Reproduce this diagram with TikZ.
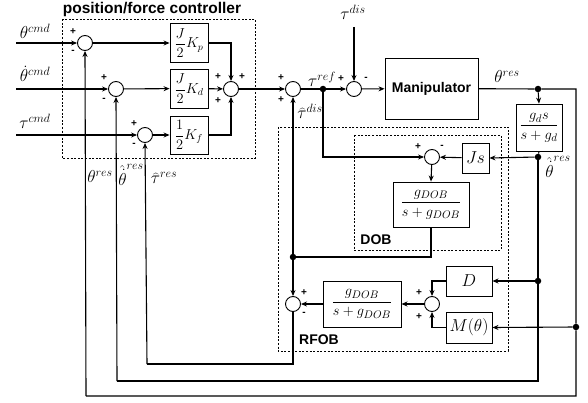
\documentclass[tikz,border=0pt]{standalone}
\usepackage{fontspec}
\newfontfamily\hv{Liberation Sans}
\usetikzlibrary{arrows.meta}
\begin{document}
\begin{tikzpicture}[x=1pt,y=-1pt,
  sig/.style={line width=1.1pt},
  arr/.style={sig,-{Stealth[length=6pt,width=5pt]}},
  sumc/.style={circle,draw,line width=0.9pt,minimum size=15pt,inner sep=0pt,fill=white},
  blk/.style={draw,line width=0.9pt,inner sep=0pt,fill=white,font=\fontsize{16}{18}\selectfont},
  kblk/.style={blk,minimum width=38pt,font=\fontsize{14}{16}\selectfont},
  jdot/.style={circle,fill,inner sep=0pt,minimum size=6.5pt},
  sgn/.style={inner sep=0pt,font=\hv\fontsize{10}{11}\selectfont\bfseries},
  lbl/.style={inner sep=0pt,font=\fontsize{17}{19}\selectfont},
  ttl/.style={inner sep=0pt,font=\hv\bfseries\fontsize{14}{16}\selectfont},
  dbox/.style={draw,line width=0.6pt,dash pattern=on 2pt off 1.6pt}
]
\useasboundingbox (0,0) rectangle (588,403);
% dashed frames
\draw[dbox] (62,19) rectangle (255,158);
\draw[dbox] (278,127) rectangle (508,351);
\draw[dbox] (354,135) rectangle (501,250);
\node[ttl,font=\hv\bfseries\fontsize{15.5}{17}\selectfont] (title) at (152,9) {position/force controller};
\node[ttl] (doblbl) at (376,240) {DOB};
\node[ttl] (rfoblbl) at (319,340) {RFOB};
% sums
\node[sumc] (s1) at (85,43) {};
\node[sumc] (s2) at (116,89) {};
\node[sumc] (s3) at (145,135) {};
\node[sumc] (s4) at (231,89) {};
\node[sumc] (s5) at (293,89) {};
\node[sumc] (s6) at (354,89) {};
\node[sumc] (s7) at (432,157) {};
\node[sumc] (s8) at (293,304) {};
\node[sumc] (s9) at (432,304) {};
% blocks
\node[kblk,minimum height=39pt] (Kp) at (189,43) {$\displaystyle\frac{J}{2}K_p$};
\node[kblk,minimum height=39pt] (Kd) at (189,88.5) {$\displaystyle\frac{J}{2}K_d$};
\node[kblk,minimum height=38pt] (Kf) at (189,135) {$\displaystyle\frac{1}{2}K_f$};
\node[blk,minimum width=93pt,minimum height=61pt,font=\hv\bfseries\fontsize{14}{16}\selectfont] (Man) at (431.5,88.5) {Manipulator};
\node[blk,minimum width=46pt,minimum height=47pt,font=\fontsize{15}{17}\selectfont] (gd) at (539,127.5) {$\displaystyle\frac{g_d s}{s+g_d}$};
\node[blk,minimum width=27pt,minimum height=30pt] (Js) at (475.5,158) {$Js$};
\node[blk,minimum width=76pt,minimum height=45pt,font=\fontsize{15}{17}\selectfont] (dobF) at (431,204.5) {$\displaystyle\frac{g_{DOB}}{s+g_{DOB}}$};
\node[blk,minimum width=78pt,minimum height=46pt,font=\fontsize{15}{17}\selectfont] (rfobF) at (362,304) {$\displaystyle\frac{g_{DOB}}{s+g_{DOB}}$};
\node[blk,minimum width=46pt,minimum height=30pt] (D) at (469,281) {$D$};
\node[blk,minimum width=46pt,minimum height=31pt] (M) at (469,327.5) {$M(\theta)$};
% dots
\node[jdot] (dref) at (323,89) {};
\node[jdot] (dth) at (538,89) {};
\node[jdot] (dthd) at (538,157) {};
\node[jdot] (dD) at (538,281) {};
\node[jdot] (dM) at (576,327) {};
\node[jdot] (ddob) at (293,257) {};
% coordinates
\coordinate (in1) at (16,43);
\coordinate (in2) at (16,89);
\coordinate (in3) at (16,135);
\coordinate (tdis) at (354,27);
\coordinate (cTR) at (576,89);
\coordinate (cBR1) at (576,396);
\coordinate (cBL1) at (86,396);
\coordinate (cBR2) at (538,381);
\coordinate (cBL2) at (117,381);
\coordinate (cBR3) at (293,364);
\coordinate (cBL3) at (147,364);
% connectors
\draw[arr] (in1) -- (s1);
\draw[arr] (in2) -- (s2);
\draw[arr] (in3) -- (s3);
\draw[arr] (s1) -- (Kp);
\draw[arr] (s2) -- (Kd);
\draw[arr] (s3) -- (Kf);
\draw[arr] (Kp.east) -| (s4.north);
\draw[arr] (Kd) -- (s4);
\draw[arr] (Kf.east) -| (s4.south);
\draw[arr] (s4) -- (s5);
\draw[sig] (s5) -- (dref);
\draw[arr] (dref) -- (s6);
\draw[arr] (tdis) -- (s6.north);
\draw[arr] (s6) -- (Man);
\draw[sig] (Man) -- (dth) -- (cTR) -- (dM) -- (cBR1) -- (cBL1);
\draw[arr] (cBL1) -- (s1.south);
\draw[arr] (dth) -- (gd.north);
\draw[sig] (gd.south) -- (dthd);
\draw[arr] (dthd) -- (Js.east);
\draw[arr] (Js) -- (s7);
\draw[arr] (dref) |- (s7.west);
\draw[arr] (s7) -- (dobF.north);
\draw[sig] (dobF.south) |- (ddob);
\draw[arr] (ddob) -- (s5.south);
\draw[arr] (ddob) -- (s8.north);
\draw[arr] (rfobF) -- (s8);
\draw[arr] (s9) -- (rfobF);
\draw[sig] (s8.south) -- (cBR3) -- (cBL3);
\draw[arr] (cBL3) -- (s3.south);
\draw[sig] (dthd) -- (dD) -- (cBR2) -- (cBL2);
\draw[arr] (cBL2) -- (s2.south);
\draw[arr] (dD) -- (D.east);
\draw[arr] (dM) -- (M.east);
\draw[arr] (D.west) -| (s9.north);
\draw[arr] (M.west) -| (s9.south);
% signs
\node[sgn] (p1a) at (73,32) {+};
\node[sgn] (p1b) at (73,52) {-};
\node[sgn] (p2a) at (104,78) {+};
\node[sgn] (p2b) at (104,100) {-};
\node[sgn] (p3a) at (134,124) {+};
\node[sgn] (p3b) at (134,145) {-};
\node[sgn] (p4a) at (218,77) {+};
\node[sgn] (p4b) at (242,77) {+};
\node[sgn] (p4c) at (218,101) {+};
\node[sgn] (p5a) at (281,78) {+};
\node[sgn] (p5b) at (281,100) {+};
\node[sgn] (p6a) at (341,79) {+};
\node[sgn] (p6b) at (366,79) {-};
\node[sgn] (p7a) at (418,147) {+};
\node[sgn] (p7b) at (442,147) {-};
\node[sgn] (p8a) at (304,293) {+};
\node[sgn] (p8b) at (304,314) {-};
\node[sgn] (p9a) at (419,293) {+};
\node[sgn] (p9b) at (419,317) {+};
% labels
\node[lbl] (lthc) at (35,31) {$\theta^{cmd}$};
\node[lbl] (lthdc) at (35,74) {$\dot{\theta}^{cmd}$};
\node[lbl] (ltauc) at (35,121) {$\tau^{cmd}$};
\node[lbl] (lthr1) at (100,177) {$\theta^{res}$};
\node[lbl] (lthdr1) at (131,175) {$\hat{\dot{\theta}}^{res}$};
\node[lbl] (ltaur1) at (164,178) {$\widehat{\tau}^{res}$};
\node[lbl] (ltref) at (322,79) {$\tau^{ref}$};
\node[lbl] (ltdis) at (353,12) {$\tau^{dis}$};
\node[lbl] (ltdish) at (310,111) {$\widehat{\tau}^{dis}$};
\node[lbl] (lthr2) at (507,77) {$\theta^{res}$};
\node[lbl] (lthdr2) at (558,167) {$\hat{\dot{\theta}}^{res}$};
\end{tikzpicture}
\end{document}
